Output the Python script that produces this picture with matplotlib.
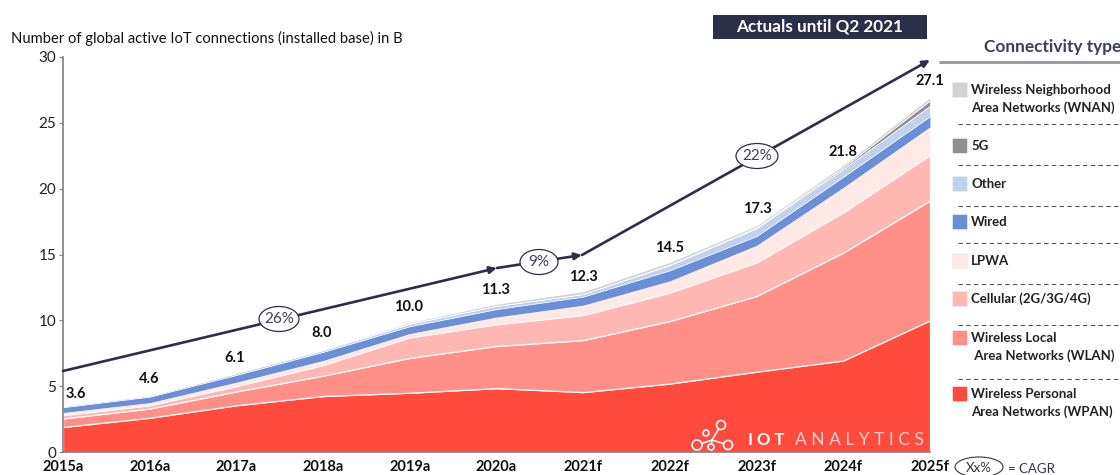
# IoT connections stacked area chart
import matplotlib.pyplot as plt
from matplotlib.patches import Circle, Ellipse, Rectangle
import numpy as np

plt.rcParams['font.family'] = ['Lato', 'DejaVu Sans']

years = ['2015a','2016a','2017a','2018a','2019a','2020a','2021f','2022f','2023f','2024f','2025f']
totals = [3.6,4.6,6.1,8.0,10.0,11.3,12.3,14.5,17.3,21.8,27.1]

wpan = [1.9,2.6,3.55,4.25,4.5,4.85,4.55,5.2,6.1,6.95,10.0]
wlan = [.65,.7,1.05,1.55,2.65,3.2,3.95,4.75,5.75,8.2,9.1]
cellular = [.25,.25,.4,.8,1.55,1.65,1.9,2.15,2.55,3.05,3.45]
lpwa = [.2,.2,.3,.35,.3,.55,.75,.9,1.3,1.9,2.15]
wired = [.4,.45,.55,.65,.55,.6,.65,.8,.7,.8,.8]
other = [.1,.1,.15,.15,.2,.25,.2,.4,.6,.6,.8]
g5 = [0,0,0,0,0,0,0,.03,.05,.12,.4]
wnan = [.05,.05,.05,.05,.1,.15,.2,.2,.15,.18,.25]

layers = [wpan,wlan,cellular,lpwa,wired,other,g5,wnan]
colors = ['#FF4B3E','#FF8F87','#FFB7B2','#FFE9E7','#6A8FD6','#C0D1EC','#8F9094','#D2D2D2']
dark = '#2B2F4A'
gray = '#7F7F86'

legend_labels = [['Wireless Neighborhood','Area Networks (WNAN)'],['5G'],['Other'],['Wired'],
                 ['LPWA'],['Cellular (2G/3G/4G)'],['Wireless Local',' Area Networks (WLAN)'],
                 ['Wireless Personal','Area Networks (WPAN)']]
legend_y = [90,146,184,222,261,299,338,394]
legend_colors = ['#D2D2D2','#8F9094','#C0D1EC','#6A8FD6','#FFE9E7','#FFB7B2','#FF8F87','#FF4B3E']
dash_y = [124,165,206,243,284,325,379]

W, H = 1120, 475
fig = plt.figure(figsize=(W/100,H/100),dpi=100)
ax = fig.add_axes([63/W,(H-452)/H,(930-63)/W,(452-57)/H])
x = np.arange(len(years))
polys = ax.stackplot(x,layers,colors=colors)
for i,p in enumerate(polys):
    p.set_edgecolor('white')
    p.set_linewidth(0.9 if i<3 else (0 if i==4 else 0.5))
ax.set_xlim(0,10)
ax.set_ylim(0,30)
ax.set_xticks(x)
ax.set_xticklabels(years,fontsize=10.5,fontweight='bold',color='#111111')
ax.set_yticks([0,5,10,15,20,25,30])
ax.tick_params(axis='y',labelsize=11,length=3,color=gray,labelcolor='#222222',pad=2)
ax.tick_params(axis='x',length=0,pad=5.5)
for s in ['top','right']:
    ax.spines[s].set_visible(False)
for s in ['left','bottom']:
    ax.spines[s].set_color(gray)
    ax.spines[s].set_linewidth(1.2)

# overlay in pixel coordinates for the annotations
ov = fig.add_axes([0,0,1,1])
ov.set_xlim(0,W)
ov.set_ylim(H,0)
ov.axis('off')
ov.patch.set_alpha(0)

ov.text(11,38,'Number of global active IoT connections (installed base) in B',fontsize=10.6,color='#111111',va='center')

label_px = [(76,394),(149,379),(235,358),(322,333),(409,307),(496,290),(583,277),(670,248),(757,209),(843,152),(930,81)]
for t,(px,py) in zip(totals,label_px):
    ov.text(px,py,'%.1f'%t,fontsize=10.5,fontweight='bold',ha='center',va='center',color='#111111')

def arrow(p0,p1):
    ov.annotate('',xy=p1,xytext=p0,arrowprops=dict(arrowstyle='-|>,head_width=0.2,head_length=0.42',color=dark,lw=1.9,shrinkA=0,shrinkB=0))

arrow((63,371),(497,268))
arrow((497,268),(582,255))
arrow((582,255),(930,60))
for px,py,s,w in [(279,319,'26%',40),(539,262,'9%',38),(757,156,'22%',42)]:
    ov.add_patch(Ellipse((px,py),w,25,fc='white',ec=dark,lw=0.9,zorder=5))
    ov.text(px,py,s,fontsize=11,ha='center',va='center',color='#3B3F58',zorder=6)

ov.add_patch(Rectangle((713,15),214,24,fc=dark,ec='none'))
ov.text(820,27,'Actuals until Q2 2021',fontsize=12.3,fontweight='bold',color='white',ha='center',va='center')

ov.text(984,47,'Connectivity type',fontsize=12.4,fontweight='bold',color='#3B3F58',va='center')
ov.plot([939,1120],[62,62],color='#9A9AA0',lw=2.2,solid_capstyle='butt')

for lines,py,c in zip(legend_labels,legend_y,legend_colors):
    ov.add_patch(Rectangle((952,py-8),15,15,fc=c,ec='#EEEEEE',lw=0.5))
    for k,line in enumerate(lines):
        ov.text(971,py+k*18,line,fontsize=9.5,fontweight='bold',color='#222222',va='center')
for y in dash_y:
    ov.plot([958,1120],[y,y],color='#555555',lw=0.8,ls=(0,(4,3)))

ov.add_patch(Ellipse((979,467),48,20,fc='white',ec='#333344',lw=0.8))
ov.text(979,468,'Xx%',fontsize=9.5,ha='center',va='center',color='#333344')
ov.text(1008,469,'= CAGR',fontsize=9.5,va='center',color='#333344')

# logo
ov.plot([697,712,728],[445,440,445],color='white',lw=1.2)
ov.plot([712,721],[440,425],color='white',lw=1.2)
ov.plot([712,711],[440,447],color='white',lw=1.2)
for px,py,r in [(721,425,4.5),(697,445,5),(728,445,4.5),(706,433,3),(711,447,3)]:
    ov.add_patch(Circle((px,py),r,fc='#FF4B3E',ec='white',lw=1.2,zorder=4))
ov.text(748,440,'I O T',fontsize=12,fontweight='bold',color='white',va='center')
ov.text(795,440,'A N A L Y T I C S',fontsize=12.5,color='#FFD0CC',va='center')

fig.savefig('out.png',dpi=100)
